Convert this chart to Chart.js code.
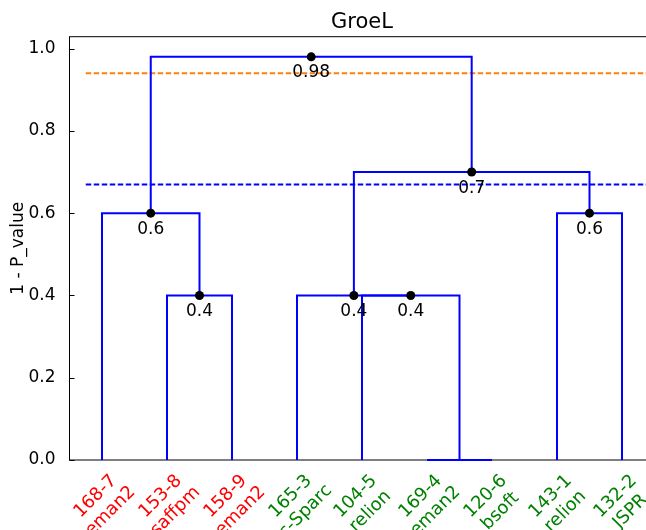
<!DOCTYPE html>
<html>
<head>
<meta charset="utf-8">
<script src="https://cdn.jsdelivr.net/npm/chart.js@4/dist/chart.umd.min.js"></script>
<style>
  html, body { margin: 0; padding: 0; background: #fff; overflow: hidden; }
  #wrap { width: 700px; height: 530px; position: relative; }
</style>
</head>
<body>
<div id="wrap"><canvas id="dendro"></canvas></div>
<script>
// ─── Data ────────────────────────────────────────
const leafX      = [5, 15, 25, 35, 45, 55, 65, 75, 85];
const leafIds    = ["168-7", "153-8", "158-9", "165-3", "104-5", "169-4", "120-6", "143-1", "132-2"];
const leafTools  = ["eman2", "saffpm", "eman2", "c-Sparc", "relion", "eman2", "bsoft", "relion", "JSPR"];
const leafColors = ["#ff0000", "#ff0000", "#ff0000", "#008000", "#008000", "#008000", "#008000", "#008000", "#008000"];

// links, scipy style: x of the 4 corners and their heights
const icoord = [
    [15, 15, 25, 25],
    [5, 5, 20, 20],
    [55, 55, 65, 65],
    [45, 45, 60, 60],
    [35, 35, 52.5, 52.5],
    [75, 75, 85, 85],
    [43.75, 43.75, 80, 80],
    [12.5, 12.5, 61.875, 61.875]
];
const dcoord = [
    [0, 0.4, 0.4, 0],
    [0, 0.6, 0.6, 0.4],
    [0, 0, 0, 0],
    [0, 0.4, 0.4, 0],
    [0, 0.4, 0.4, 0.4],
    [0, 0.6, 0.6, 0],
    [0.4, 0.7, 0.7, 0.6],
    [0.6, 0.98, 0.98, 0.7]
];

// annotated merge nodes
const nodeX = [37.1875, 61.875, 12.5, 80, 20, 43.75, 52.5];
const nodeY = [0.98, 0.7, 0.6, 0.6, 0.4, 0.4, 0.4];

// threshold lines
const threshX    = [2.5, 90];
const threshHigh = 0.94;
const threshLow  = 0.67;

const yTicks = [0, 0.2, 0.4, 0.6, 0.8, 1.0];
const yMax   = 1.029;

// ─── Drawing helpers ─────────────────────────────
const FONT = "DejaVu Sans";

const decorations = {
    id: "decorations",
    beforeDatasetsDraw(chart) {
        const { ctx, chartArea: a, scales: { y } } = chart;
        ctx.save();
        ctx.strokeStyle = "#000";
        ctx.lineWidth = 1;
        ctx.strokeRect(a.left, a.top, a.right - a.left, a.bottom - a.top);
        ctx.beginPath();
        yTicks.forEach(v => {
            const py = Math.round(y.getPixelForValue(v)) + 0.5;
            ctx.moveTo(a.left, py); ctx.lineTo(a.left + 5, py);
            ctx.moveTo(a.right, py); ctx.lineTo(a.right - 5, py);
        });
        ctx.stroke();
        ctx.restore();
    },
    afterDraw(chart) {
        const { ctx, chartArea: a, scales: { x, y } } = chart;
        ctx.save();
        ctx.fillStyle = "#000";

        // title
        ctx.font = `21px "${FONT}"`;
        ctx.textAlign = "center";
        ctx.textBaseline = "middle";
        ctx.fillText("GroeL", (a.left + a.right) / 2, 23);

        // y label
        ctx.save();
        ctx.translate(18.5, (a.top + a.bottom) / 2);
        ctx.rotate(-Math.PI / 2);
        ctx.font = `17px "${FONT}"`;
        ctx.fillText("1 - P_value", 0, 0);
        ctx.restore();

        // node values
        ctx.font = `17px "${FONT}"`;
        ctx.textBaseline = "alphabetic";
        nodeX.forEach((nx, i) => {
            ctx.fillText(String(nodeY[i]), x.getPixelForValue(nx), y.getPixelForValue(nodeY[i]) + 20.5);
        });

        // leaf labels, rotated 45deg, centred under the leaf
        ctx.font = `18px "${FONT}"`;
        const lh = 21;
        leafX.forEach((lx, i) => {
            ctx.save();
            ctx.translate(x.getPixelForValue(lx) + 1, 504);
            ctx.rotate(-Math.PI / 4);
            ctx.fillStyle = leafColors[i];
            ctx.textBaseline = "middle";
            ctx.fillText(leafIds[i], 0, -lh / 2);
            ctx.fillText(leafTools[i], 0, lh / 2);
            ctx.restore();
        });
        ctx.restore();
    }
};

// ─── Chart ───────────────────────────────────────
const linkSets = icoord.map((xs, i) => ({
    data: xs.map((v, j) => ({ x: v, y: dcoord[i][j] })),
    showLine: true,
    borderColor: "#0000ff",
    borderWidth: 2,
    pointRadius: 0,
    clip: false,
    order: 2
}));

const threshSet = (val, color) => ({
    data: threshX.map(v => ({ x: v, y: val })),
    showLine: true,
    borderColor: color,
    borderWidth: 2,
    borderDash: [5.5, 2.5],
    pointRadius: 0,
    clip: false,
    order: 3
});

new Chart(document.getElementById("dendro"), {
    type: "scatter",
    data: {
        datasets: [
            threshSet(threshHigh, "#ff7f0e"),
            threshSet(threshLow, "#0000ff"),
            ...linkSets,
            {
                data: nodeX.map((v, i) => ({ x: v, y: nodeY[i] })),
                pointRadius: 4.5,
                pointBackgroundColor: "#000",
                pointBorderWidth: 0,
                clip: false,
                order: 1
            }
        ]
    },
    options: {
        responsive: true,
        maintainAspectRatio: false,
        animation: false,
        events: [],
        layout: { padding: { left: 0, top: 36.7, right: 45.5, bottom: 70 } },
        plugins: { legend: { display: false }, tooltip: { enabled: false }, title: { display: false } },
        scales: {
            x: { type: "linear", min: 0, max: 90, display: false },
            y: {
                type: "linear",
                min: 0,
                max: yMax,
                afterFit: s => { s.width = 69.5; },
                afterBuildTicks: s => { s.ticks = yTicks.map(v => ({ value: v })); },
                grid: { display: false },
                border: { display: false },
                ticks: {
                    padding: 6,
                    color: "#000",
                    font: { family: FONT, size: 17 },
                    callback: v => v.toFixed(1)
                }
            }
        }
    },
    plugins: [decorations]
});
</script>
</body>
</html>
